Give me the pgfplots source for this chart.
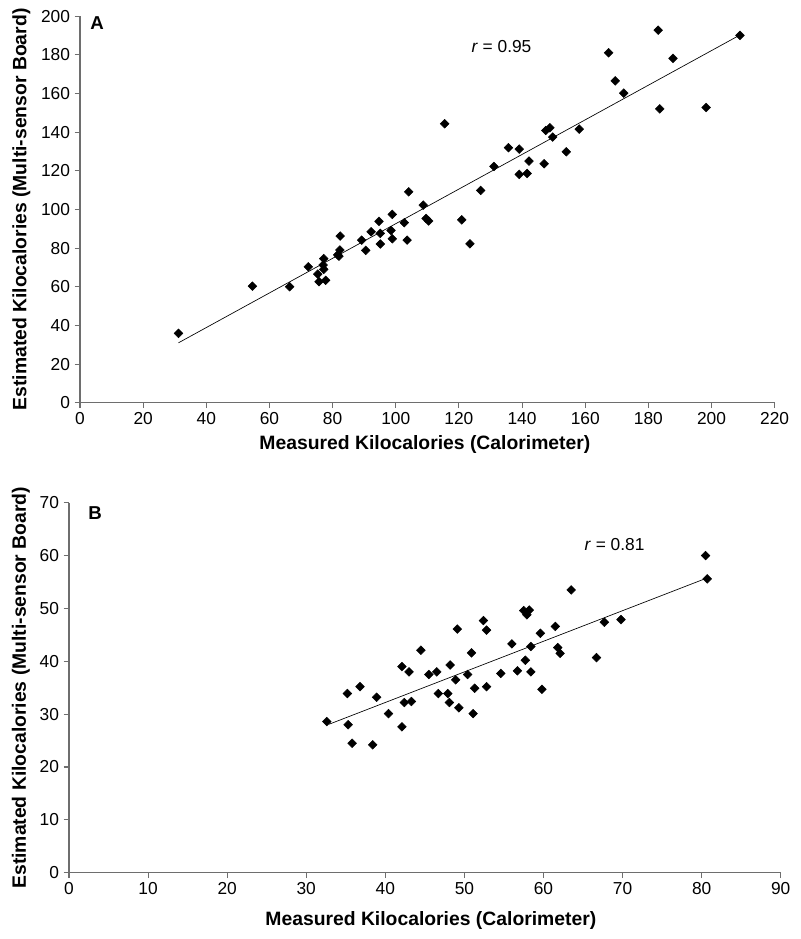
\documentclass[border=0pt]{standalone}
\usepackage{pgfplots}
\pgfplotsset{compat=1.18}
\usepackage{fontspec}
\setmainfont{Liberation Sans}
\definecolor{axgray}{RGB}{110,110,110}
\pgfplotsset{
  kcal/.style={
    scale only axis,
    axis lines*=left,
    axis line style={axgray, line width=0.8pt},
    tick align=outside,
    major tick length=4pt,
    tick style={axgray, line width=0.8pt},
    tick label style={font=\fontsize{13}{15}\selectfont},
    /pgf/number format/assume math mode=true,
    /pgf/number format/1000 sep={},
    label style={font=\fontsize{14.5}{16}\selectfont\bfseries},
    clip=false,
  },
  dmark/.style={only marks, mark=square*, mark size=2.3pt, black,
    mark options={rotate=45, fill=black, draw=black}},
}
\begin{document}
\begin{tikzpicture}
\useasboundingbox (0,0) rectangle (600pt,704.25pt);
% Panel A
\begin{axis}[kcal,
  at={(60pt,402.2pt)}, anchor=south west,
  width=521pt, height=290pt,
  xmin=0, xmax=220, ymin=0, ymax=200,
  xtick={0,20,...,220}, ytick={0,20,...,200},
  xlabel={Measured Kilocalories (Calorimeter)},
  ylabel={Estimated Kilocalories (Multi-sensor Board)},
  xlabel style={at={(axis description cs:0.5,0)}, anchor=center, yshift=-31.5pt, xshift=-1.8pt},
  ylabel style={at={(axis description cs:0,0.5)}, anchor=center, yshift=44pt},
]
\addplot[dmark] table {
31.2 35.9
54.6 60.3
66.4 60.0
72.3 70.3
75.3 66.5
75.7 62.6
77.0 71.2
77.2 74.5
77.2 69.0
77.8 63.3
81.6 76.5
82.0 75.8
82.3 79.0
82.4 86.2
89.2 84.1
90.5 78.8
92.2 88.4
94.7 93.8
95.1 87.6
95.1 82.1
98.9 97.4
98.5 89.1
98.9 84.8
102.7 93.1
103.6 84.1
104.1 109.1
108.7 102.2
109.6 95.3
110.4 94.0
115.5 144.3
120.9 94.6
123.5 82.2
126.9 109.8
131.1 122.2
135.7 131.9
139.1 131.2
139.1 118.1
141.6 118.6
142.2 125.0
147.0 123.6
147.5 140.8
148.8 142.2
149.7 137.4
154.0 129.8
158.1 141.5
167.4 181.0
169.5 166.5
172.2 160.1
183.1 192.7
183.6 152.0
187.8 178.1
198.3 152.7
209.0 190.0
};
\addplot[black, line width=0.5pt, no marks] coordinates {(31.2,31.0) (209.0,190.2)};
\node[anchor=west, font=\fontsize{13}{15}\selectfont] at (axis cs:122.5,184) {\textit{r} = 0.95};
\node[font=\fontsize{14}{16}\selectfont\bfseries] at (axis cs:5.4,196.3) {A};
\end{axis}
% Panel B
\begin{axis}[kcal,
  at={(51.75pt,49.7pt)}, anchor=south west,
  width=533.8pt, height=277.5pt,
  xmin=0, xmax=90, ymin=0, ymax=70,
  xtick={0,10,...,90}, ytick={0,10,...,70},
  xlabel={Measured Kilocalories (Calorimeter)},
  ylabel={Estimated Kilocalories (Multi-sensor Board)},
  xlabel style={at={(axis description cs:0.5,0)}, anchor=center, yshift=-35.5pt, xshift=4.5pt},
  ylabel style={at={(axis description cs:0,0.5)}, anchor=center, yshift=36pt},
]
\addplot[dmark] table {
32.6 28.6
35.2 33.9
35.3 28.0
35.8 24.5
36.8 35.2
38.4 24.2
38.9 33.2
40.4 30.1
42.1 39.0
43.0 38.0
42.1 27.6
42.4 32.2
43.3 32.4
44.5 42.1
45.5 37.5
46.5 38.0
46.7 33.9
47.9 33.9
48.1 32.2
48.2 39.3
48.9 36.5
49.1 46.1
49.3 31.2
50.4 37.5
50.9 41.6
51.1 30.1
51.3 34.9
52.4 47.7
52.8 45.9
52.8 35.2
54.6 37.7
56.0 43.3
56.7 38.2
57.5 49.6
57.9 48.8
58.2 49.7
57.7 40.2
58.4 42.8
58.4 38.0
59.6 45.3
59.8 34.7
61.5 46.6
61.8 42.6
62.1 41.5
63.5 53.5
66.7 40.7
67.7 47.4
69.8 47.9
80.5 60.0
80.7 55.6
};
\addplot[black, line width=0.5pt, no marks] coordinates {(32.9,28.1) (80.4,55.6)};
\node[anchor=west, font=\fontsize{13}{15}\selectfont] at (axis cs:64.6,62.0) {\textit{r} = 0.81};
\node[font=\fontsize{14}{16}\selectfont\bfseries] at (axis cs:3.3,68.0) {B};
\end{axis}
\end{tikzpicture}
\end{document}
